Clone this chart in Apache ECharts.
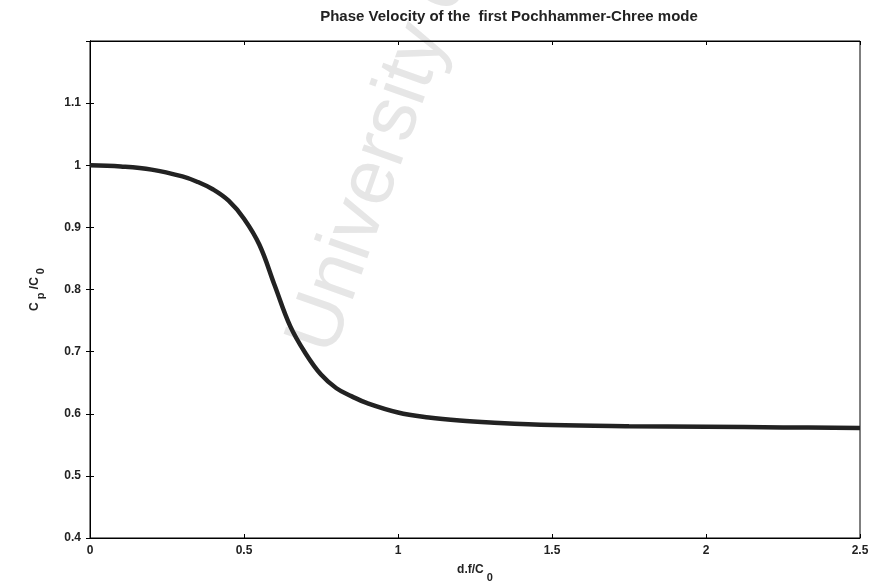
<!DOCTYPE html>
<html>
<head>
<meta charset="utf-8">
<script src="https://cdn.jsdelivr.net/npm/echarts@6/dist/echarts.min.js"></script>
<style>html,body{margin:0;padding:0;background:#fff}#c{width:870px;height:584px}</style>
</head>
<body>
<div id="c"></div>
<script>
const xValues = [0, 0.1, 0.2, 0.3, 0.35, 0.4, 0.45, 0.5, 0.55, 0.6, 0.65, 0.7, 0.75, 0.8, 0.85, 0.9, 1.0, 1.1, 1.2, 1.3, 1.5, 1.75, 2.0, 2.25, 2.5];
const yValues = [1.0, 0.998, 0.993, 0.982, 0.973, 0.961, 0.943, 0.914, 0.872, 0.806, 0.741, 0.697, 0.663, 0.641, 0.628, 0.617, 0.602, 0.594, 0.589, 0.586, 0.582, 0.580, 0.579, 0.578, 0.577];
const titleText = 'Phase Velocity of the  first Pochhammer-Chree mode';

const chart = echarts.init(document.getElementById('c'), null, {renderer: 'canvas'});
const ff = 'Liberation Sans, Arial, sans-serif';
const lbl = {fontFamily: ff, fontSize: 12, fontWeight: 'bold', color: '#222'};
const tickIn = {show: true, inside: true, length: 4, lineStyle: {color: '#000', width: 1}};
chart.setOption({
  animation: false,
  backgroundColor: '#fff',
  title: {
    text: titleText, left: 504, top: 4, textAlign: 'center',
    textStyle: {fontFamily: ff, fontSize: 15, fontWeight: 'bold', color: '#222'}
  },
  graphic: [{
    type: 'text', x: 312, y: 350, rotation: 1.23, z: -1,
    style: {text: 'University of Cape Town', fontSize: 78, fontFamily: ff,
      fill: '#e6e6e6', textVerticalAlign: 'middle', textAlign: 'left'}
  }],
  grid: {left: 90, right: 10, top: 41, bottom: 46, outerBoundsMode: 'none', containLabel: false,
    show: true, borderColor: '#000', borderWidth: 1},
  xAxis: [{
    type: 'value', min: 0, max: 2.5, interval: 0.5,
    axisLine: {show: true, lineStyle: {color: '#000'}},
    axisTick: tickIn, splitLine: {show: false},
    axisLabel: Object.assign({margin: 7}, lbl),
    name: '{a|d.f/C}{b| 0}', nameLocation: 'middle', nameGap: 18,
    nameTextStyle: {rich: {a: Object.assign({}, lbl, {fontSize: 12}), b: Object.assign({}, lbl, {fontSize: 11, padding: [16, 0, 0, 0]})}}
  }, {
    type: 'value', position: 'top', min: 0, max: 2.5, interval: 0.5,
    axisLine: {show: true, lineStyle: {color: '#000'}}, axisTick: tickIn,
    axisLabel: {show: false}, splitLine: {show: false}
  }],
  yAxis: [{
    type: 'value', min: 0.4, max: 1.2, interval: 0.1,
    axisLine: {show: true, lineStyle: {color: '#000'}},
    axisTick: tickIn, splitLine: {show: false},
    axisLabel: Object.assign({margin: 9, showMaxLabel: false, formatter: v => (Math.round(v * 10) / 10).toString()}, lbl),
    name: '{a|C}{b| p}{a| /C}{b| 0}', nameLocation: 'middle', nameGap: 44, nameRotate: 90,
    nameTextStyle: {rich: {a: Object.assign({}, lbl, {fontSize: 12}), b: Object.assign({}, lbl, {fontSize: 11, padding: [12, 0, 0, 0]})}}
  }, {
    type: 'value', position: 'right', min: 0.4, max: 1.2, interval: 0.1,
    axisLine: {show: true, lineStyle: {color: '#000'}}, axisTick: tickIn,
    axisLabel: {show: false}, splitLine: {show: false}
  }],
  series: [{
    type: 'line', smooth: 0.4, showSymbol: false,
    data: xValues.map((x, i) => [x, yValues[i]]),
    lineStyle: {color: '#222', width: 4.5}
  }]
});
</script>
</body>
</html>
